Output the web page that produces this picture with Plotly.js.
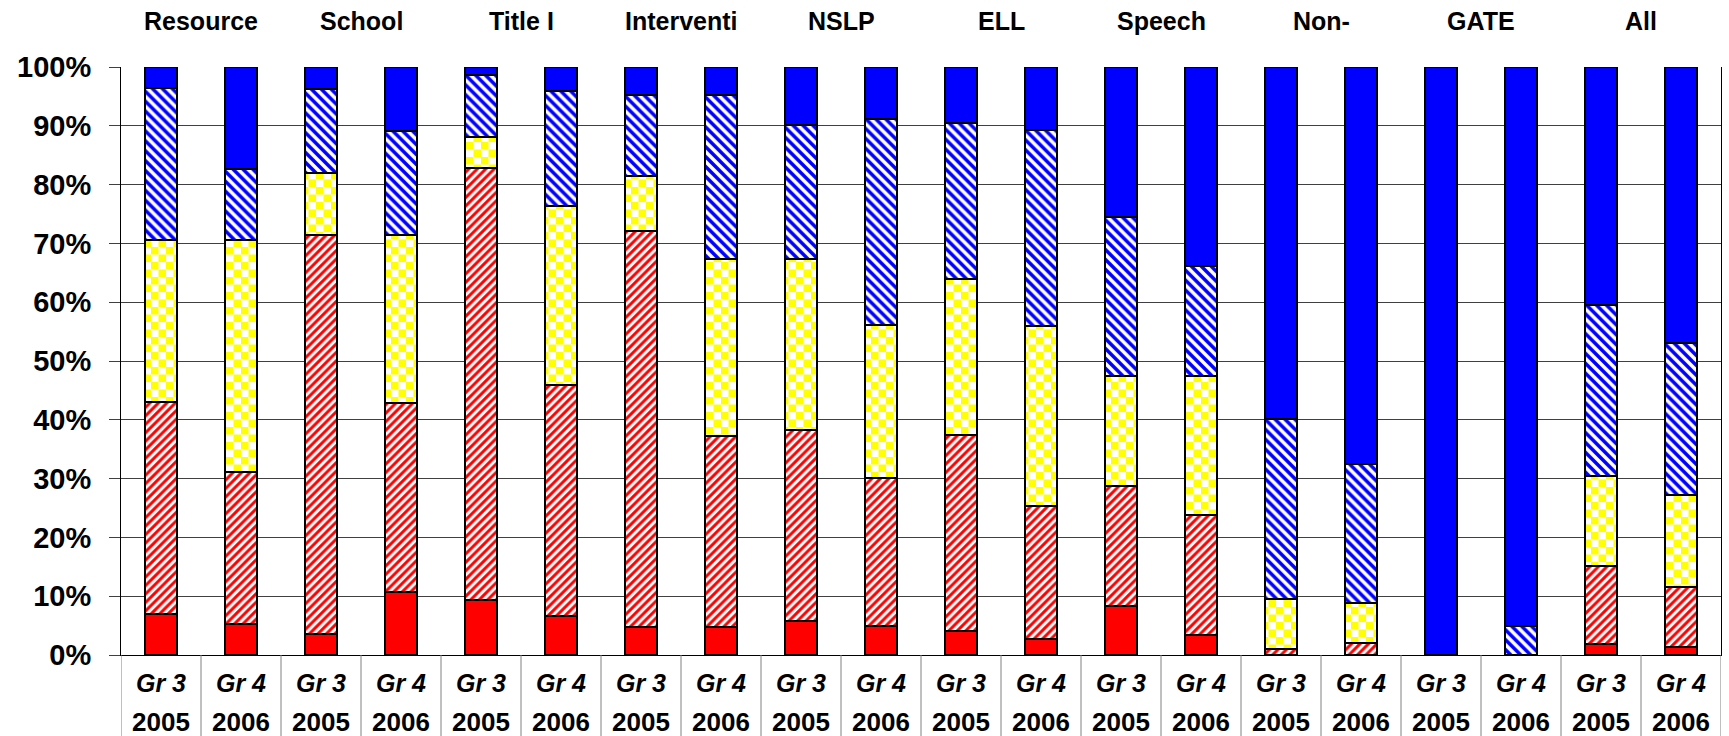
<!DOCTYPE html>
<html><head><meta charset="utf-8">
<script src="https://cdn.plot.ly/plotly-3.0.1.min.js"></script>
<style>html,body{margin:0;padding:0;background:#fff}#chart{width:1729px;height:736px}</style>
</head><body><div id="chart"></div>
<script>
const groups = ['Resource','School','Title I','Interventi','NSLP','ELL','Speech','Non-','GATE','All'];
const grades = ['Gr 3','Gr 4'];
const years = ['2005','2006'];
const yTickVals = [0,10,20,30,40,50,60,70,80,90,100];
const yTickText = ['0%','10%','20%','30%','40%','50%','60%','70%','80%','90%','100%'];

const solidRed    = [6.9,5.2,3.5,10.8,9.3,6.6,4.7,4.7,5.7,4.9,4.0,2.7,8.4,3.4,0,0,0,0,1.9,1.4];
const hatchRed    = [36.2,25.9,67.9,32.1,73.6,39.4,67.4,32.5,32.5,25.2,33.4,22.7,20.4,20.4,1.1,2.0,0,0,13.2,10.2];
const checkYellow = [27.5,39.5,10.6,28.5,5.2,30.3,9.3,30.2,29.2,26.0,26.6,30.6,18.7,23.7,8.4,6.8,0,0,15.3,15.6];
const hatchBlue   = [25.9,12.1,14.3,17.8,10.5,19.7,13.9,27.9,22.8,35.0,26.5,33.3,27.0,18.6,30.6,23.6,0,5.0,29.1,25.9];
const solidBlue   = [3.5,17.3,3.7,10.8,1.4,4.0,4.7,4.7,9.8,8.9,9.5,10.7,25.5,33.9,59.9,67.6,100,95.0,40.5,46.9];

const cats = [], catGrade = [], catYear = [];
groups.forEach(g => { for (let k = 0; k < 2; k++) { cats.push(g + ' ' + grades[k] + ' ' + years[k]); catGrade.push(grades[k]); catYear.push(years[k]); } });

const FONT = 'Liberation Sans, Arial, sans-serif';
const line = {color:'#000', width:2};
function tr(name, vals, marker) {
  return {type:'bar', name:name, x:cats, y:vals, width:0.4, marker:Object.assign({line:line}, marker), hoverinfo:'skip'};
}
const traces = [
  tr('solidRed', solidRed, {color:'#ff0000'}),
  tr('hatchRed', hatchRed, {color:'#ffffff', pattern:{shape:'/', fgcolor:'#ff0000', bgcolor:'#ffffff', size:6, solidity:0.5}}),
  tr('checkYellow', checkYellow, {color:'#ffffff', pattern:{shape:'.', fgcolor:'#ffff00', bgcolor:'#ffffff', size:15, solidity:0.5}}),
  tr('hatchBlue', hatchBlue, {color:'#ffffff', pattern:{shape:'\\', fgcolor:'#0000ff', bgcolor:'#ffffff', size:7, solidity:0.5}}),
  tr('solidBlue', solidBlue, {color:'#0000ff'})
];

const PH = 588; // plot height px
const annotations = [];
groups.forEach((g, i) => annotations.push({xref:'x', yref:'paper', x:2*i+0.5, y:1 + 46/PH, text:g, showarrow:false, yanchor:'middle', xanchor:'center', font:{family:FONT, size:25, color:'#000', weight:'bold'}}));
cats.forEach((c, i) => {
  annotations.push({xref:'x', yref:'paper', x:i, y:-28/PH, text:'<i>' + catGrade[i] + '</i>', showarrow:false, yanchor:'middle', font:{family:FONT, size:25, color:'#000', weight:'bold'}});
  annotations.push({xref:'x', yref:'paper', x:i, y:-67/PH, text:catYear[i], showarrow:false, yanchor:'middle', font:{family:FONT, size:26, color:'#000', weight:'bold'}});
});
const shapes = [];
for (let i = 0; i <= cats.length; i++) shapes.push({type:'line', xref:'x', yref:'paper', x0:i-0.5, x1:i-0.5, y0:0, y1:-82/PH, line:{color:'#808080', width:1}});

const layout = {
  width:1729, height:736,
  margin:{l:121, r:8, t:67, b:81},
  paper_bgcolor:'#fff', plot_bgcolor:'#fff',
  barmode:'stack', showlegend:false,
  xaxis:{type:'category', categoryorder:'array', categoryarray:cats, range:[-0.5, 19.5], showticklabels:false, ticks:'', showgrid:false, showline:true, linecolor:'#000', linewidth:1, zeroline:false, fixedrange:true},
  yaxis:{range:[0,100], tickvals:yTickVals, ticktext:yTickText, ticks:'outside', ticklen:11, tickcolor:'#404040', ticklabelstandoff:12, showline:true, linecolor:'#000', linewidth:1, mirror:true, showgrid:true, gridcolor:'#404040', gridwidth:1, zeroline:false, tickfont:{family:FONT, size:29, color:'#000', weight:'bold'}, fixedrange:true},
  annotations:annotations, shapes:shapes
};

Plotly.newPlot('chart', traces, layout, {staticPlot:true, displayModeBar:false}).then(gd => {
  const ns = 'http://www.w3.org/2000/svg';
  gd.querySelectorAll('pattern').forEach(p => {
    if (!p.querySelector('circle')) return;
    const w = parseFloat(p.getAttribute('width')) || 15;
    const h = w / 2;
    while (p.firstChild) p.removeChild(p.firstChild);
    const mk = (x, y, ww, hh, f) => { const r = document.createElementNS(ns, 'rect'); r.setAttribute('x', x); r.setAttribute('y', y); r.setAttribute('width', ww); r.setAttribute('height', hh); r.setAttribute('fill', f); p.appendChild(r); };
    mk(0, 0, w, w, '#ffffff'); mk(0, 0, h, h, '#ffff00'); mk(h, h, h, h, '#ffff00');
  });
});
</script>
</body></html>
